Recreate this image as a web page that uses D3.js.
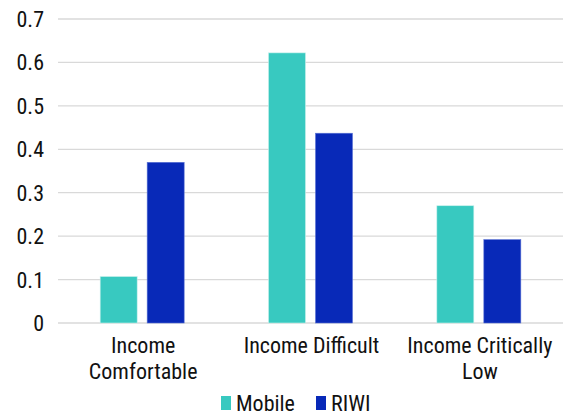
<!DOCTYPE html>
<html><head><meta charset="utf-8">
<script src="https://cdn.jsdelivr.net/npm/d3@7"></script>
<style>
body{margin:0;background:#fff;}
svg text{font-family:"Liberation Sans Narrow","Roboto Condensed","Arial Narrow",sans-serif;fill:#111;}
</style></head><body>
<svg id="c" width="567" height="417"></svg>
<script>
const categories = [["Income","Comfortable"],["Income Difficult"],["Income Critically","Low"]];
const seriesNames = ["Mobile","RIWI"];
const mobile = [0.107, 0.622, 0.270];
const riwi = [0.370, 0.437, 0.192];
const yTicks = [0,0.1,0.2,0.3,0.4,0.5,0.6,0.7];
const colors = ["#38C9C0","#0829B8"];

const svg = d3.select("#c");
const L=58, R=563, T=19, B=323;
const x = d3.scaleBand().domain(d3.range(categories.length)).range([L,R]).paddingInner(0).paddingOuter(0);
const y = d3.scaleLinear().domain([0,0.7]).range([B,T]);
const barW = 37, gap = 10;

svg.append("g").selectAll("line").data(yTicks).join("line")
  .attr("x1",L).attr("x2",R).attr("y1",d=>y(d)).attr("y2",d=>y(d))
  .attr("stroke","#d9d9d9").attr("stroke-width",1.3);

svg.append("g").selectAll("text").data(yTicks).join("text")
  .attr("x",44).attr("y",d=>y(d)+8).attr("text-anchor","end")
  .attr("font-size",22).text(d=>d===0?"0":d.toFixed(1));

const data = [mobile, riwi];
data.forEach((vals,si)=>{
  svg.append("g").selectAll("rect").data(vals).join("rect")
    .attr("x",(d,i)=>x(i)+x.bandwidth()/2 + (si===0 ? -gap/2-barW : gap/2))
    .attr("y",d=>y(d)).attr("width",barW).attr("height",d=>B-y(d))
    .attr("fill",colors[si]).attr("stroke", si===0?"#c8f0ec":"#5a72d4").attr("stroke-width",0.6);
});

const lab = svg.append("g");
categories.forEach((lines,i)=>{
  lines.forEach((t,j)=>{
    lab.append("text").attr("x",x(i)+x.bandwidth()/2+1).attr("y",353+j*26)
      .attr("text-anchor","middle").attr("font-size",22).text(t);
  });
});

const leg = [{n:seriesNames[0],x:221,c:colors[0]},{n:seriesNames[1],x:316,c:colors[1]}];
leg.forEach(l=>{
  svg.append("rect").attr("x",l.x).attr("y",396).attr("width",10).attr("height",14).attr("fill",l.c);
  svg.append("text").attr("x",l.x+15).attr("y",411).attr("font-size",22).text(l.n);
});
</script></body></html>
